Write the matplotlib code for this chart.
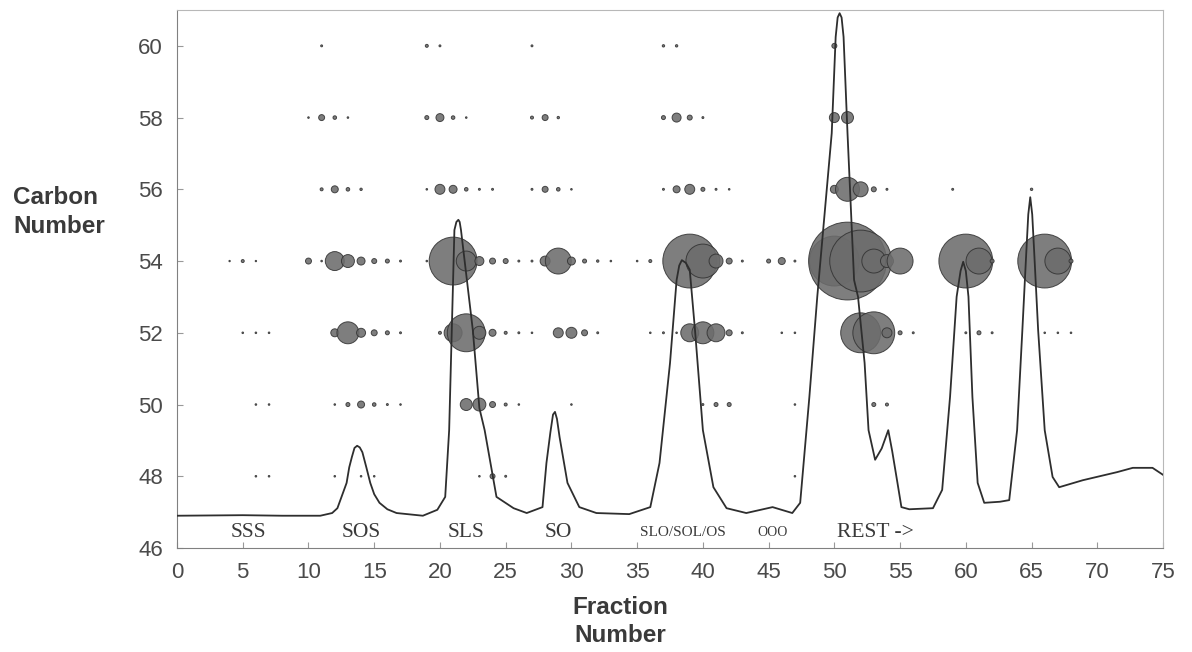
import matplotlib
matplotlib.use("Agg")
import matplotlib.pyplot as plt

# bubble rows: fraction numbers and relative amounts (bubble area) per carbon number
c60_frac = [11, 19, 20, 27, 37, 38, 50]
c60_amt = [0.06, 0.14, 0.06, 0.06, 0.09, 0.09, 0.39]

c58_frac = [10, 11, 12, 13, 19, 20, 21, 22, 27, 28, 29, 37, 38, 39, 40, 50, 51]
c58_amt = [0.04, 0.56, 0.2, 0.04, 0.25, 1.0, 0.2, 0.04, 0.14, 0.56, 0.09,
           0.25, 1.27, 0.39, 0.06, 1.56, 2.25]

c56_frac = [11, 12, 13, 14, 19, 20, 21, 22, 23, 24, 27, 28, 29, 30,
            37, 38, 39, 40, 41, 42, 50, 51, 52, 53, 54, 59, 65]
c56_amt = [0.14, 0.77, 0.2, 0.09, 0.04, 1.56, 1.0, 0.2, 0.06, 0.06, 0.06, 0.56, 0.2, 0.04,
           0.06, 0.77, 1.56, 0.25, 0.06, 0.04, 1.0, 9.0, 3.52, 0.39, 0.06, 0.06, 0.09]

c54_frac = [4, 5, 6, 10, 11, 12, 13, 14, 15, 16, 17, 19, 21, 22, 23, 24, 25, 26, 27,
            28, 29, 30, 31, 32, 33, 35, 36, 39, 40, 41, 42, 43, 45, 46, 47,
            50, 51, 52, 53, 54, 55, 60, 61, 62, 66, 67, 68]
c54_amt = [0.03, 0.14, 0.03, 0.56, 0.04, 5.64, 2.64, 1.0, 0.39, 0.25, 0.06, 0.04,
           36.0, 6.25, 1.27, 0.56, 0.39, 0.06, 0.06,
           1.56, 10.56, 1.0, 0.25, 0.09, 0.04, 0.04, 0.14, 45.56, 18.06, 3.06, 0.56, 0.06,
           0.25, 0.77, 0.06, 39.06, 95.06, 60.06, 9.0, 2.64, 10.56,
           45.56, 10.56, 0.25, 45.56, 10.56, 0.25]

c52_frac = [5, 6, 7, 12, 13, 14, 15, 16, 17, 20, 21, 22, 23, 24, 25, 26, 27,
            29, 30, 31, 32, 36, 37, 38, 39, 40, 41, 42, 43, 46, 47,
            52, 53, 54, 55, 56, 60, 61, 62, 66, 67, 68]
c52_amt = [0.04, 0.04, 0.04, 1.0, 7.56, 1.27, 0.56, 0.25, 0.06, 0.14, 5.06, 22.56,
           2.64, 0.77, 0.14, 0.06, 0.04,
           1.56, 1.89, 0.56, 0.06, 0.04, 0.06, 0.04, 5.06, 7.56, 5.06, 0.56, 0.06, 0.04, 0.04,
           25.0, 27.56, 1.56, 0.25, 0.06, 0.06, 0.25, 0.06, 0.04, 0.04, 0.04]

c50_frac = [6, 7, 12, 13, 14, 15, 16, 17, 22, 23, 24, 25, 26, 30, 40, 41, 42, 47, 53, 54]
c50_amt = [0.04, 0.04, 0.04, 0.25, 0.77, 0.2, 0.06, 0.04, 2.25, 2.64, 0.56, 0.14, 0.04,
           0.04, 0.06, 0.25, 0.25, 0.04, 0.25, 0.14]

c48_frac = [6, 7, 12, 14, 15, 23, 24, 25, 47]
c48_amt = [0.04, 0.04, 0.04, 0.04, 0.04, 0.04, 0.39, 0.06, 0.04]

rows = [(60, c60_frac, c60_amt), (58, c58_frac, c58_amt), (56, c56_frac, c56_amt),
        (54, c54_frac, c54_amt), (52, c52_frac, c52_amt), (50, c50_frac, c50_amt),
        (48, c48_frac, c48_amt)]

# chromatogram trace (detector signal, % of plot height)
trace_frac = [0, 5, 8, 10.9, 11.8, 12.2, 12.9, 13.1, 13.3, 13.5, 13.7, 13.9, 14.1, 14.4,
              14.7, 15.0, 15.4, 16.0, 16.7,
              18.7, 19.8, 20.4, 20.7, 20.9, 21.1, 21.25, 21.4, 21.5, 21.6, 22.5, 23.0,
              23.4, 24.3, 25.6, 26.6, 27.8, 28.1, 28.4, 28.6, 28.75, 28.9, 29.1, 29.7,
              30.6, 31.9, 34.4, 36.0, 36.7, 37.5, 38.0, 38.2, 38.4, 38.7, 39.0, 39.4,
              40.0, 40.8, 41.8, 43.3, 45.3, 46.8, 47.4, 48.1, 48.7, 49.0, 49.8, 50.1,
              50.25, 50.4, 50.55, 50.7, 51.0, 51.5, 51.8, 52.3, 52.6, 53.1, 53.6, 54.1,
              54.4, 54.8, 55.1, 55.7, 57.5, 58.2, 58.8, 59.3, 59.6, 59.8, 60.0, 60.2,
              60.5, 60.9, 61.4, 62.6, 63.3, 63.9, 64.3, 64.6, 64.75, 64.9, 65.05, 65.2,
              65.5, 66.0, 66.6, 67.1, 68.9, 71.5, 72.7, 74.2, 75.0]
trace_sig = [6.0, 6.1, 6.0, 6.0, 6.5, 7.4, 12.1, 15.0, 16.9, 18.6, 19.0, 18.7, 17.8, 15.0,
             12.1, 10.0, 8.4, 7.2, 6.5,
             6.0, 7.1, 9.5, 21.9, 40.5, 59.1, 60.6, 61.0, 60.6, 59.1, 40.5, 26.0,
             21.9, 9.5, 7.4, 6.5, 7.6, 15.8, 21.5, 24.8, 25.3, 24.0, 20.6, 12.1,
             7.6, 6.5, 6.3, 7.6, 15.8, 34.4, 49.8, 52.5, 53.5, 53.0, 51.7, 40.5,
             21.9, 11.3, 7.4, 6.5, 7.6, 6.5, 8.4, 28.1, 46.7, 55.0, 77.1, 95.0,
             98.6, 99.4, 98.6, 95.0, 77.1, 49.8, 46.7, 34.4, 21.9, 16.4, 18.5, 21.9,
             18.0, 12.1, 7.6, 7.2, 7.4, 10.8, 28.1, 46.7, 51.5, 53.2, 51.5, 46.7,
             28.1, 12.1, 8.4, 8.6, 8.9, 21.9, 40.5, 55.0, 62.0, 65.2, 62.0, 55.0,
             40.5, 21.9, 13.2, 11.3, 12.6, 14.1, 14.9, 14.9, 13.6]

peak_names = ["SSS", "SOS", "SLS", "SO", "SLO/SOL/OS", "OOO", "REST ->"]
peak_pos = [5.4, 14.0, 22.0, 29.0, 38.5, 45.3, 53.1]
peak_size = [15.5, 15.5, 15.5, 15.5, 11, 10, 15.5]

SIZE_SCALE = 33.0

fig = plt.figure(figsize=(11.92, 6.52), dpi=100)
ax = fig.add_axes([0.1485, 0.1595, 0.8272, 0.8252])

for carbon, fr, amt in rows:
    ax.scatter(fr, [carbon] * len(fr), s=[a * SIZE_SCALE for a in amt],
               facecolor="#6c6c6c", edgecolor="#333333", linewidths=0.7,
               alpha=0.88, zorder=2)

ax.set_xlim(0, 75)
ax.set_ylim(46, 61)
ax.set_xticks(range(0, 76, 5))
ax.set_yticks(range(46, 61, 2))
ax.tick_params(labelsize=16, colors="#999999", length=4, direction="in", pad=10)
for lab in ax.get_xticklabels() + ax.get_yticklabels():
    lab.set_family("Liberation Sans")
    lab.set_color("#4a4a4a")
for side in ["left", "bottom"]:
    ax.spines[side].set_color("#808080")
for side in ["top", "right"]:
    ax.spines[side].set_color("#b8b8b8")

for name, pos, fs in zip(peak_names, peak_pos, peak_size):
    ax.text(pos, 46.42, name, ha="center", va="center", fontsize=fs,
            family="Liberation Serif", color="#3a3a3a")

ax2 = ax.twinx()
ax2.set_ylim(0, 100)
ax2.plot(trace_frac, trace_sig, color="#2e2e2e", lw=1.3, zorder=3)
ax2.axis("off")

fig.text(0.011, 0.675, "Carbon\nNumber", ha="left", va="center", fontsize=17.5,
         fontweight="bold", family="Liberation Sans", color="#3a3a3a", linespacing=1.3)
fig.text(0.52, 0.047, "Fraction\nNumber", ha="center", va="center", fontsize=17.5,
         fontweight="bold", family="Liberation Sans", color="#3a3a3a", linespacing=1.3)

fig.savefig("out.png", dpi=100)
